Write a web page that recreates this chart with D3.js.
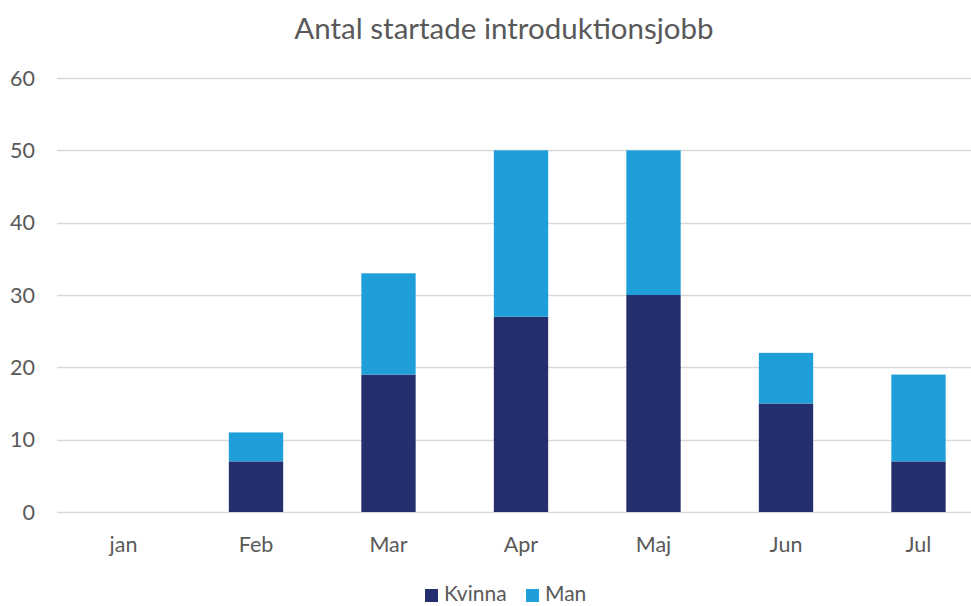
<!DOCTYPE html>
<html><head><meta charset="utf-8">
<script src="https://cdn.jsdelivr.net/npm/d3@7"></script>
<style>body{margin:0;background:#fff}svg{display:block}text{font-family:Lato,"Open Sans",sans-serif}</style>
</head><body>
<svg id="c" width="971" height="606"></svg>
<script>
const categories = ["jan","Feb","Mar","Apr","Maj","Jun","Jul"];
const kvinna = [0,7,19,27,30,15,7];
const man = [0,4,14,23,20,7,12];
const seriesNames = ["Kvinna","Man"];
const colors = ["#252F6E","#1E9FDA"];
const yTicks = [0,10,20,30,40,50,60];

const svg = d3.select("#c");
const x0 = 57.25, step = 132.5;
const x = d3.scaleBand().domain(categories).range([x0, x0 + step*categories.length]).paddingInner(0.59).paddingOuter(0.295);
const y = d3.scaleLinear().domain([0,60]).range([512,78]);

svg.append("text").attr("x",504).attr("y",39).attr("text-anchor","middle")
  .attr("font-size",29.5).attr("fill","#595959").text("Antal startade introduktionsjobb");

svg.append("g").selectAll("line").data(yTicks).join("line")
  .attr("x1",57).attr("x2",971).attr("y1",d=>Math.round(y(d))+0.5).attr("y2",d=>Math.round(y(d))+0.5)
  .attr("stroke","#D9D9D9").attr("stroke-width",1.5);

svg.append("g").selectAll("text").data(yTicks).join("text")
  .attr("x",35).attr("y",d=>y(d)+7.5).attr("text-anchor","end")
  .attr("font-size",21.5).attr("fill","#595959").text(d=>d);

const stacked = d3.stack().keys([0,1]).value((d,k)=>d[k])(categories.map((c,i)=>[kvinna[i],man[i]]));
stacked.forEach((s,si)=>{
  svg.append("g").selectAll("rect").data(s).join("rect")
    .attr("x",(d,i)=>x(categories[i])).attr("width",x.bandwidth())
    .attr("y",d=>y(d[1])).attr("height",d=>y(d[0])-y(d[1]))
    .attr("fill",colors[si]);
});

svg.append("g").selectAll("text").data(categories).join("text")
  .attr("x",d=>x(d)+x.bandwidth()/2).attr("y",552).attr("text-anchor","middle")
  .attr("font-size",21.5).attr("fill","#595959").text(d=>d);

const leg = svg.append("g");
const legX = [425, 526];
seriesNames.forEach((n,i)=>{
  leg.append("rect").attr("x",legX[i]).attr("y",589).attr("width",13).attr("height",13).attr("fill",colors[i]);
  leg.append("text").attr("x",legX[i]+19).attr("y",601).attr("font-size",21).attr("fill","#595959").text(n);
});
</script>
</body></html>
